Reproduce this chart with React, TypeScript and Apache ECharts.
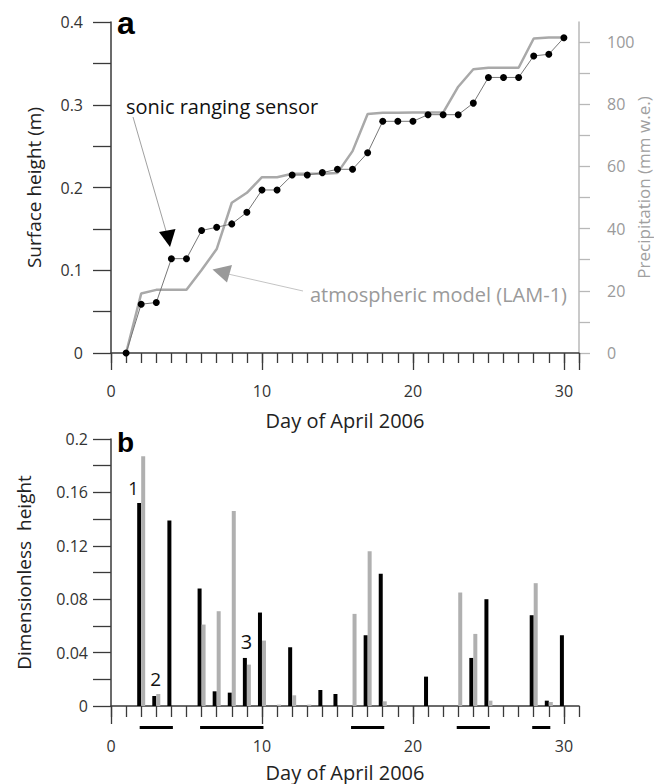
import React, { useEffect, useRef } from "react";
import * as echarts from "echarts";

// ---- Data ----
const days: number[] = Array.from({ length: 30 }, (_, i) => i + 1);

// Panel a: sonic ranging sensor surface height (m)
const sonicHeight: number[] = [
  0, 0.059, 0.061, 0.114, 0.114, 0.148, 0.152, 0.156, 0.17, 0.197,
  0.197, 0.215, 0.215, 0.218, 0.222, 0.222, 0.242, 0.28, 0.28, 0.28,
  0.288, 0.288, 0.288, 0.302, 0.333, 0.333, 0.333, 0.359, 0.361, 0.381,
];

// Panel a: atmospheric model (LAM-1) cumulative precipitation (mm w.e.)
const modelPrecip: number[] = [
  0, 19.1, 20.3, 20.3, 20.3, 26.7, 33.4, 48.3, 51.5, 56.5,
  56.5, 57.6, 57.6, 57.6, 57.9, 64.9, 76.8, 77.2, 77.2, 77.3,
  77.3, 77.3, 85.6, 91.2, 91.7, 91.7, 91.7, 101.1, 101.4, 101.4,
];

// Panel b: dimensionless heights
const blackBars: number[] = [
  0, 0.152, 0.0075, 0.139, 0, 0.088, 0.011, 0.01, 0.036, 0.07,
  0, 0.044, 0, 0.012, 0.009, 0, 0.053, 0.099, 0, 0,
  0.022, 0, 0, 0.036, 0.08, 0, 0, 0.068, 0.004, 0.053,
];
const grayBars: number[] = [
  0, 0.187, 0.009, 0, 0, 0.061, 0.071, 0.146, 0.031, 0.049,
  0.001, 0.008, 0.001, 0, 0, 0.069, 0.116, 0.0035, 0, 0,
  0, 0, 0.085, 0.054, 0.004, 0, 0, 0.092, 0.003, 0,
];

// Periods marked below panel b (start day, end day)
const periods: [number, number][] = [
  [2, 4],
  [6, 10],
  [16, 18],
  [23, 25],
  [28, 29],
];

// Tick / label values
const xMinorTicks: number[] = Array.from({ length: 32 }, (_, i) => i);
const xMajorTicksTop: number[] = [0, 10, 20, 30, 31];
const xMajorTicksBottom: number[] = [0, 10, 20, 30];
const xLabels: number[] = [0, 10, 20, 30];
const yTopTicks: number[] = [0, 0.05, 0.1, 0.15, 0.2, 0.25, 0.3, 0.35, 0.4];
const yTopLabels: number[] = [0, 0.1, 0.2, 0.3, 0.4];
const yPrecipTicks: number[] = [0, 10, 20, 30, 40, 50, 60, 70, 80, 90, 100];
const yPrecipLabels: number[] = [0, 20, 40, 60, 80, 100];
const yBotTicks: number[] = [0, 0.02, 0.04, 0.06, 0.08, 0.1, 0.12, 0.14, 0.16, 0.18, 0.2];
const yBotLabels: number[] = [0, 0.04, 0.08, 0.12, 0.16, 0.2];

const FONT = "'Open Sans', 'Noto Sans', sans-serif";
const AXIS_COLOR = "#3a3a3a";
const GRAY = "#a9a9a9";

export default function App() {
  const ref = useRef<HTMLDivElement>(null);

  useEffect(() => {
    document.body.style.margin = "0";
    if (!ref.current) return;
    const chart = echarts.init(ref.current, null, { renderer: "svg" });

    const axisLineBlack = { show: true, lineStyle: { color: AXIS_COLOR, width: 1.5 } };
    const labelStyle = { color: "#333", fontSize: 16, fontFamily: FONT };
    const nameStyle = { color: "#222", fontSize: 20, fontFamily: FONT };

    const option: any = {
      animation: false,
      backgroundColor: "#fff",
      textStyle: { fontFamily: FONT },
      grid: [
        { left: 111, right: 75, top: 22, height: 331, containLabel: false, outerBoundsMode: "none" },
        { left: 111, right: 75, top: 439, height: 267, containLabel: false, outerBoundsMode: "none" },
        { left: 111, right: 75, top: 722, height: 10, containLabel: false, outerBoundsMode: "none" },
      ],
      xAxis: [
        {
          gridIndex: 0, type: "value", min: 0, max: 31, position: "bottom",
          axisLine: { ...axisLineBlack, onZero: false },
          splitLine: { show: false },
          axisTick: { show: true, customValues: xMinorTicks, length: 10, lineStyle: { color: AXIS_COLOR, width: 1.3 } },
          axisLabel: { show: true, customValues: xLabels, margin: 30, ...labelStyle },
          name: "Day of April 2006", nameLocation: "middle", nameGap: 57,
          nameTextStyle: nameStyle,
        },
        {
          gridIndex: 0, type: "value", min: 0, max: 31, position: "bottom",
          axisLine: { show: false, onZero: false }, splitLine: { show: false },
          axisTick: { show: true, customValues: xMajorTicksTop, length: 17, lineStyle: { color: AXIS_COLOR, width: 1.3 } },
          axisLabel: { show: false },
        },
        {
          gridIndex: 1, type: "value", min: 0, max: 31, position: "bottom",
          axisLine: { ...axisLineBlack, onZero: false },
          splitLine: { show: false },
          axisTick: { show: true, customValues: xMinorTicks, length: 11, lineStyle: { color: AXIS_COLOR, width: 1.3 } },
          axisLabel: { show: true, customValues: xLabels, margin: 32, ...labelStyle },
          name: "Day of April 2006", nameLocation: "middle", nameGap: 56,
          nameTextStyle: nameStyle,
        },
        {
          gridIndex: 1, type: "value", min: 0, max: 31, position: "bottom",
          axisLine: { show: false, onZero: false }, splitLine: { show: false },
          axisTick: { show: true, customValues: xMajorTicksBottom, length: 18, lineStyle: { color: AXIS_COLOR, width: 1.3 } },
          axisLabel: { show: false },
        },
        {
          gridIndex: 2, type: "value", min: 0, max: 31, show: false,
        },
      ],
      yAxis: [
        {
          gridIndex: 0, type: "value", min: 0, max: 0.4, position: "left",
          axisLine: { ...axisLineBlack, onZero: false },
          splitLine: { show: false },
          axisTick: { show: true, customValues: yTopTicks, length: 18, lineStyle: { color: AXIS_COLOR, width: 1.3 } },
          axisLabel: { show: true, customValues: yTopLabels, margin: 28, ...labelStyle },
          name: "Surface height (m)", nameLocation: "middle", nameGap: 68,
          nameTextStyle: { ...nameStyle, fontSize: 19 },
        },
        {
          gridIndex: 0, type: "value", min: 0, max: 106.4, position: "right",
          axisLine: { show: true, onZero: false, lineStyle: { color: "#b8b8b8", width: 1.5 } },
          splitLine: { show: false },
          axisTick: { show: true, customValues: yPrecipTicks, length: 11, lineStyle: { color: "#b8b8b8", width: 1.3 } },
          axisLabel: { show: true, customValues: yPrecipLabels, margin: 28, color: "#9a9a9a", fontSize: 16, fontFamily: FONT },
          name: "Precipitation (mm w.e.)", nameLocation: "middle", nameGap: 56,
          nameMoveOverlap: false,
          nameTextStyle: { color: "#a0a0a0", fontSize: 17, fontFamily: FONT },
        },
        {
          gridIndex: 1, type: "value", min: 0, max: 0.2, position: "left",
          axisLine: { ...axisLineBlack, onZero: false },
          splitLine: { show: false },
          axisTick: { show: true, customValues: yBotTicks, length: 18, lineStyle: { color: AXIS_COLOR, width: 1.3 } },
          axisLabel: { show: true, customValues: yBotLabels, margin: 23, ...labelStyle },
          name: "Dimensionless  height", nameLocation: "middle", nameGap: 78,
          nameTextStyle: { ...nameStyle, fontSize: 19 },
        },
        {
          gridIndex: 2, type: "value", min: 0, max: 1, show: false,
        },
      ],
      series: [
        {
          type: "line", name: "atmospheric model (LAM-1)",
          xAxisIndex: 0, yAxisIndex: 1,
          data: days.map((d, i) => [d, modelPrecip[i]]),
          showSymbol: false, symbol: "none",
          lineStyle: { color: GRAY, width: 2.5 },
          z: 2,
        },
        {
          type: "line", name: "sonic ranging sensor",
          xAxisIndex: 0, yAxisIndex: 0,
          data: days.map((d, i) => [d, sonicHeight[i]]),
          symbol: "circle", symbolSize: 7,
          itemStyle: { color: "#000" },
          lineStyle: { color: "#777", width: 1 },
          z: 3,
        },
        {
          type: "bar", name: "black",
          xAxisIndex: 2, yAxisIndex: 2,
          data: days.map((d, i) => [d, blackBars[i]]),
          barWidth: 4, barGap: "0%",
          itemStyle: { color: "#000" },
        },
        {
          type: "bar", name: "gray",
          xAxisIndex: 2, yAxisIndex: 2,
          data: days.map((d, i) => [d, grayBars[i]]),
          barWidth: 4, barGap: "0%",
          itemStyle: { color: "#b0b0b0" },
        },
        {
          type: "lines", coordinateSystem: "cartesian2d",
          xAxisIndex: 4, yAxisIndex: 3,
          data: periods.map((p) => ({ coords: [[p[0], 0.5], [p[1], 0.5]] })),
          lineStyle: { color: "#000", width: 3, opacity: 1, cap: "square" },
          symbol: "none",
        },
      ],
      graphic: [
        { type: "text", x: 117, y: 23, style: { text: "a", fontSize: 32, fontWeight: "bold", fontFamily: "Arial, 'Liberation Sans', sans-serif", fill: "#000", textVerticalAlign: "middle" } },
        { type: "text", x: 117, y: 442, style: { text: "b", fontSize: 28, fontWeight: "bold", fontFamily: "Arial, 'Liberation Sans', sans-serif", fill: "#000", textVerticalAlign: "middle" } },
        { type: "text", x: 126, y: 106, style: { text: "sonic ranging sensor", fontSize: 20, fontFamily: FONT, fill: "#111", textVerticalAlign: "middle" } },
        { type: "line", shape: { x1: 133, y1: 117, x2: 166, y2: 231 }, style: { stroke: "#888", lineWidth: 0.8 } },
        { type: "polygon", shape: { points: [[159, 232], [175.5, 229], [170, 247]] }, style: { fill: "#000" } },
        { type: "text", x: 567, y: 294, style: { text: "atmospheric model (LAM-1)", fontSize: 20, fontFamily: FONT, fill: "#9a9a9a", textAlign: "right", textVerticalAlign: "middle" } },
        { type: "line", shape: { x1: 303, y1: 291, x2: 228, y2: 274 }, style: { stroke: "#c4c4c4", lineWidth: 1 } },
        { type: "polygon", shape: { points: [[212.5, 269.5], [232, 265], [227, 282.5]] }, style: { fill: "#999" } },
        { type: "text", x: 133.5, y: 487.5, style: { text: "1", fontSize: 18, fontFamily: FONT, fill: "#111", textAlign: "center", textVerticalAlign: "middle" } },
        { type: "text", x: 155.7, y: 678.5, style: { text: "2", fontSize: 19, fontFamily: FONT, fill: "#111", textAlign: "center", textVerticalAlign: "middle" } },
        { type: "text", x: 246.5, y: 641, style: { text: "3", fontSize: 20, fontFamily: FONT, fill: "#111", textAlign: "center", textVerticalAlign: "middle" } },
      ],
    };

    chart.setOption(option);
    return () => chart.dispose();
  }, []);

  return <div ref={ref} style={{ width: 654, height: 784 }} />;
}
